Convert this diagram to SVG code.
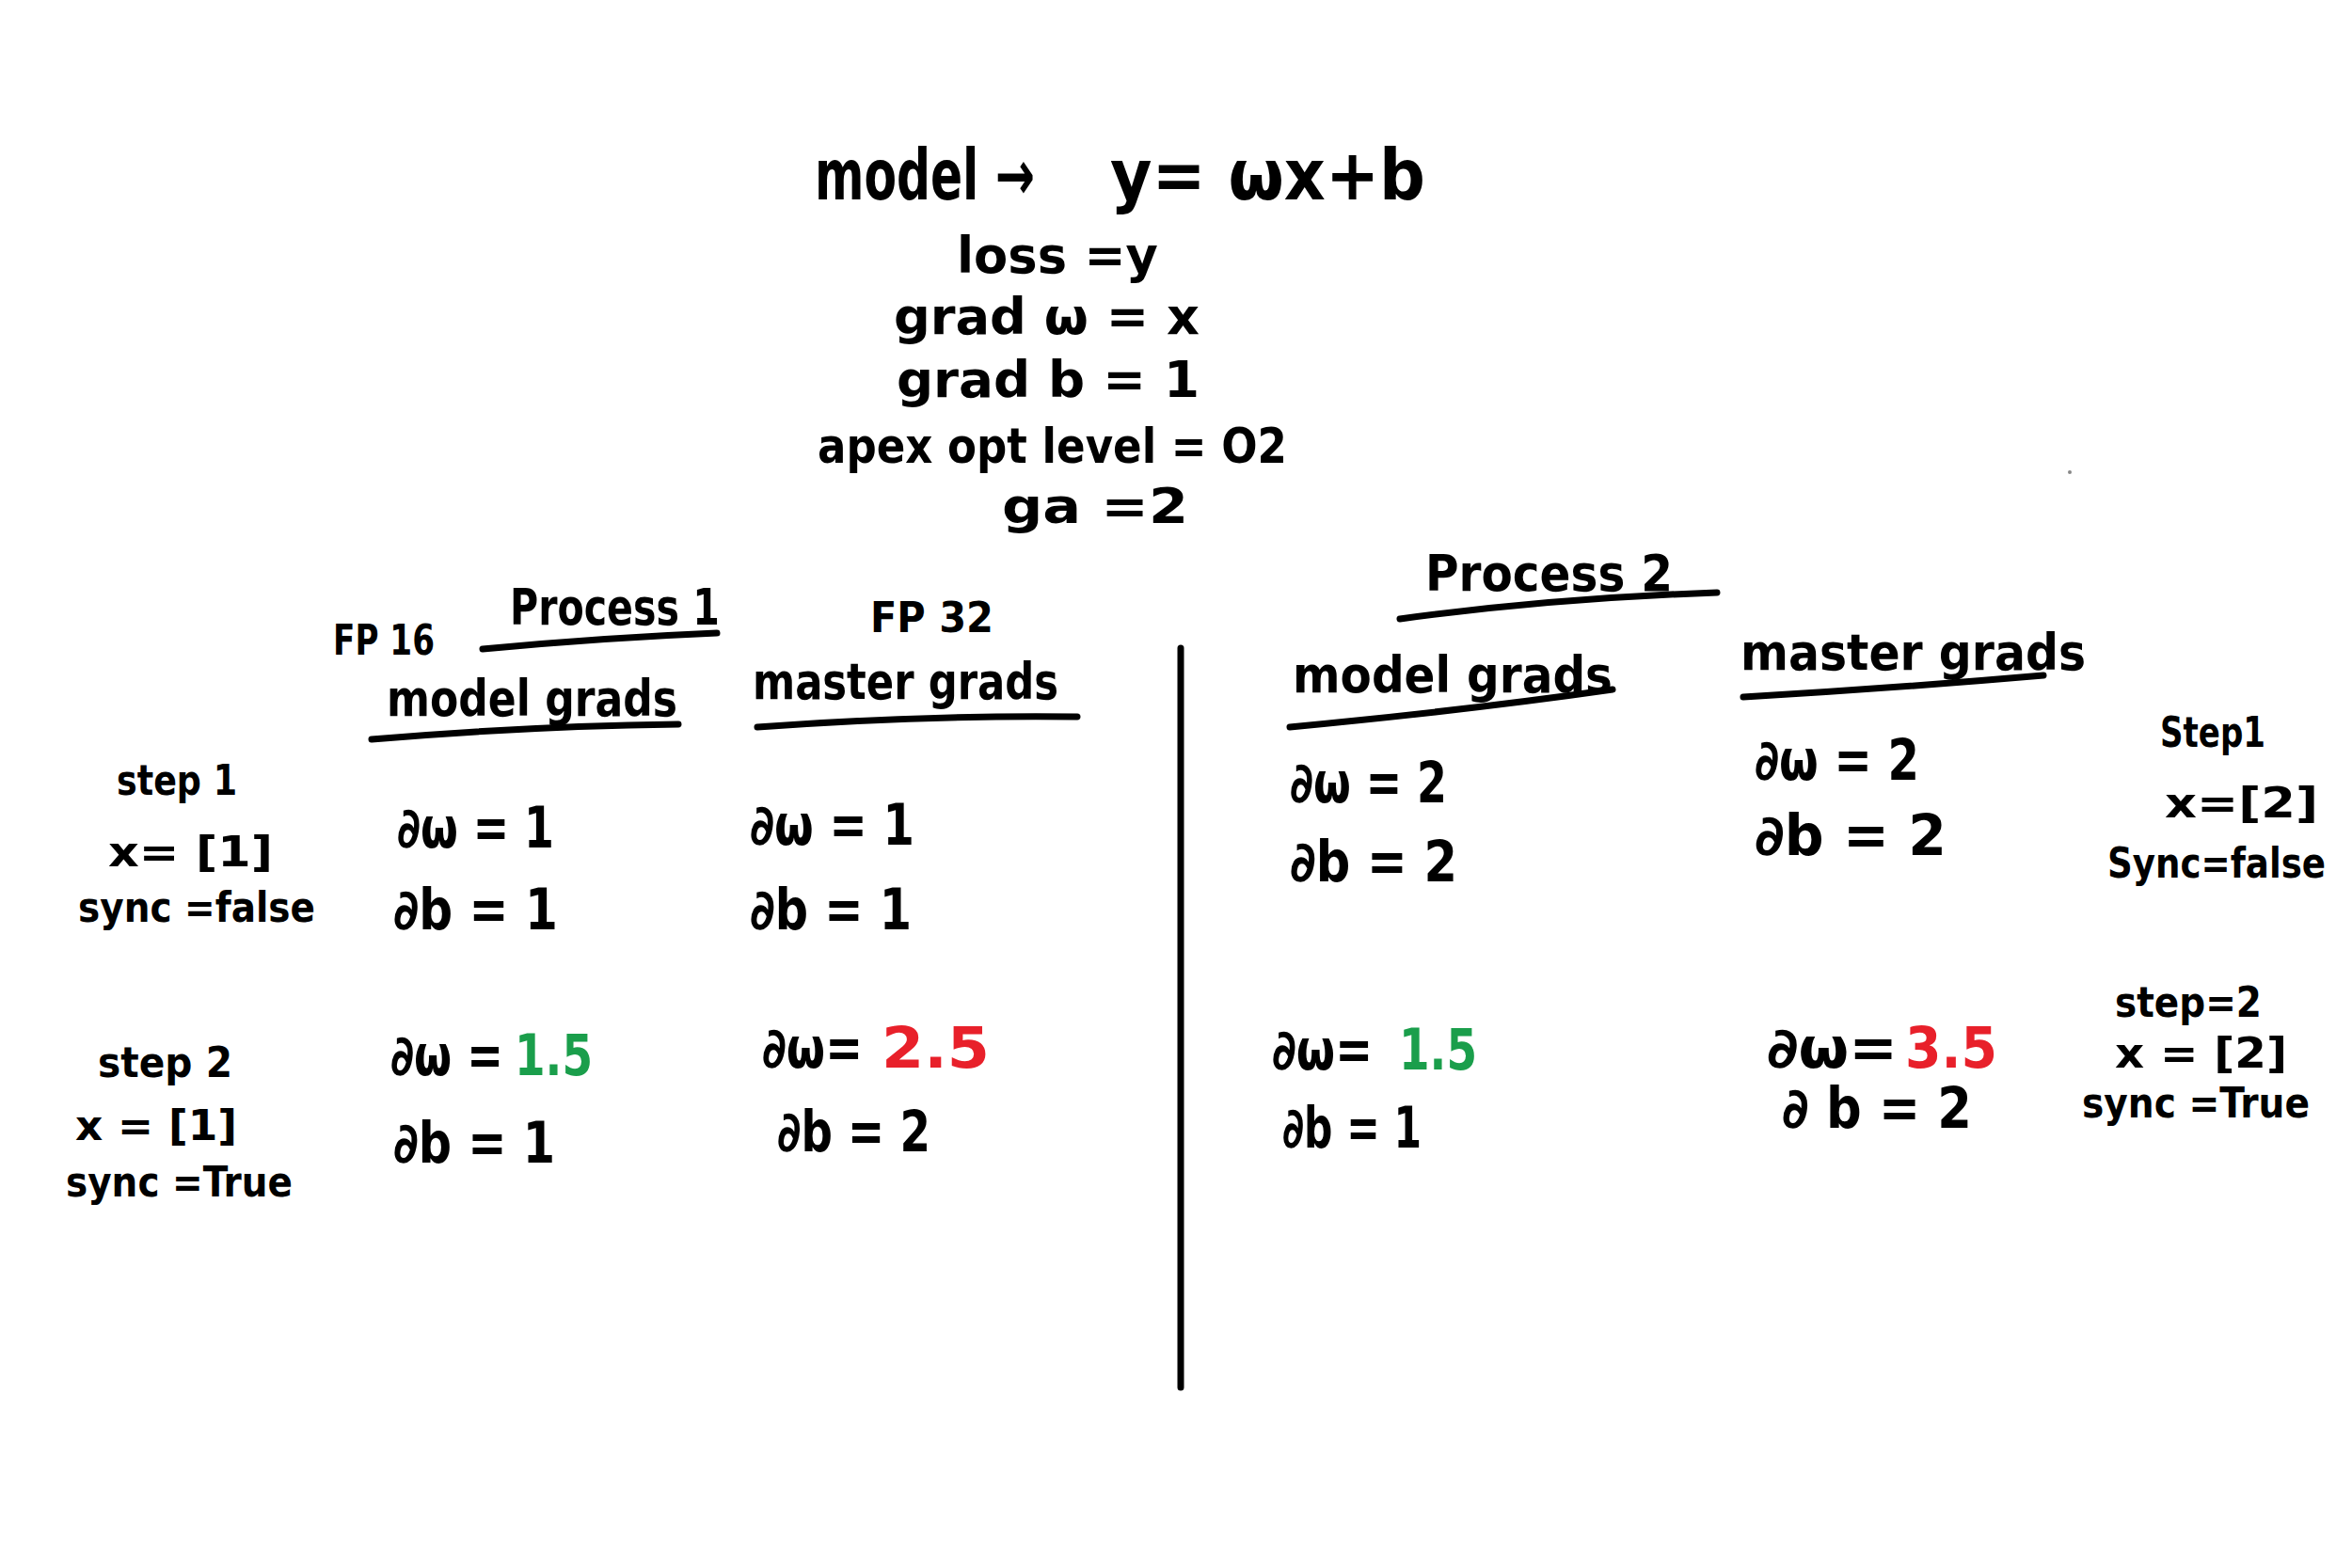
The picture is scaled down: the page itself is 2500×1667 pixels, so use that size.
<svg xmlns="http://www.w3.org/2000/svg" width="2500" height="1667" viewBox="0 0 2500 1667">
<style>
text{font-family:"DejaVu Sans Condensed","Liberation Sans Narrow","Liberation Sans",sans-serif;font-weight:bold;fill:#000}
.t{font-size:74px}
.m{font-size:54px}
.s{font-size:52px}
.h{font-size:54px}
.v{font-size:60px}
.l{font-size:44px}
.g{fill:#1a9e4b}
.r{fill:#e8202a}
.ln{stroke:#000;stroke-width:7;fill:none;stroke-linecap:round}
</style>
<rect width="2500" height="1667" fill="#fff"/>
<g id="model-def">
<text class="t" x="866" y="212" textLength="234" lengthAdjust="spacingAndGlyphs">model →</text>
<text class="t" x="1180" y="212" textLength="335" lengthAdjust="spacingAndGlyphs">y= ωx+b</text>
<text class="m" x="1017" y="290" textLength="214" lengthAdjust="spacingAndGlyphs">loss =y</text>
<text class="m" x="950" y="355" textLength="325" lengthAdjust="spacingAndGlyphs">grad ω = x</text>
<text class="m" x="953" y="422" textLength="322" lengthAdjust="spacingAndGlyphs">grad b = 1</text>
<text class="s" x="869" y="492" textLength="499" lengthAdjust="spacingAndGlyphs">apex opt level = O2</text>
<text class="s" x="1065" y="556" textLength="198" lengthAdjust="spacingAndGlyphs">ga =2</text>
</g>
<g id="process1-header">
<text class="m" x="542" y="664" textLength="223" lengthAdjust="spacingAndGlyphs">Process 1</text>
<text class="l" x="354" y="696" textLength="108" lengthAdjust="spacingAndGlyphs">FP 16</text>
<text class="h" x="411" y="761" textLength="309" lengthAdjust="spacingAndGlyphs">model grads</text>
<text class="l" x="925" y="672" textLength="131" lengthAdjust="spacingAndGlyphs">FP 32</text>
<text class="h" x="800" y="743" textLength="325" lengthAdjust="spacingAndGlyphs">master grads</text>
</g>
<g id="p1-steps">
<text class="l" x="124" y="845" textLength="128" lengthAdjust="spacingAndGlyphs">step 1</text>
<text class="l" x="115" y="921" textLength="175" lengthAdjust="spacingAndGlyphs">x= [1]</text>
<text class="l" x="83" y="980" textLength="252" lengthAdjust="spacingAndGlyphs">sync =false</text>
<text class="l" x="104" y="1145" textLength="143" lengthAdjust="spacingAndGlyphs">step 2</text>
<text class="l" x="80" y="1212" textLength="172" lengthAdjust="spacingAndGlyphs">x = [1]</text>
<text class="l" x="70" y="1272" textLength="241" lengthAdjust="spacingAndGlyphs">sync =True</text>
</g>
<g id="p1-model-grads">
<text class="v" x="422" y="901" textLength="167" lengthAdjust="spacingAndGlyphs">∂ω = 1</text>
<text class="v" x="418" y="988" textLength="175" lengthAdjust="spacingAndGlyphs">∂b = 1</text>
<text class="v" x="415" y="1143" textLength="120" lengthAdjust="spacingAndGlyphs">∂ω =</text>
<text class="v g" x="547" y="1143" textLength="83" lengthAdjust="spacingAndGlyphs">1.5</text>
<text class="v" x="418" y="1236" textLength="172" lengthAdjust="spacingAndGlyphs">∂b = 1</text>
</g>
<g id="p1-master-grads">
<text class="v" x="797" y="898" textLength="175" lengthAdjust="spacingAndGlyphs">∂ω = 1</text>
<text class="v" x="797" y="988" textLength="172" lengthAdjust="spacingAndGlyphs">∂b = 1</text>
<text class="v" x="810" y="1135" textLength="107" lengthAdjust="spacingAndGlyphs">∂ω=</text>
<text class="v r" x="937" y="1135" textLength="115" lengthAdjust="spacingAndGlyphs">2.5</text>
<text class="v" x="826" y="1224" textLength="163" lengthAdjust="spacingAndGlyphs">∂b = 2</text>
</g>
<g id="process2-header">
<text class="m" x="1515" y="628" textLength="263" lengthAdjust="spacingAndGlyphs">Process 2</text>
<text class="h" x="1374" y="736" textLength="340" lengthAdjust="spacingAndGlyphs">model grads</text>
<text class="h" x="1850" y="712" textLength="367" lengthAdjust="spacingAndGlyphs">master grads</text>
</g>
<g id="p2-model-grads">
<text class="v" x="1371" y="853" textLength="167" lengthAdjust="spacingAndGlyphs">∂ω = 2</text>
<text class="v" x="1371" y="937" textLength="178" lengthAdjust="spacingAndGlyphs">∂b = 2</text>
<text class="v" x="1352" y="1137" textLength="107" lengthAdjust="spacingAndGlyphs">∂ω=</text>
<text class="v g" x="1487" y="1137" textLength="83" lengthAdjust="spacingAndGlyphs">1.5</text>
<text class="v" x="1363" y="1220" textLength="148" lengthAdjust="spacingAndGlyphs">∂b = 1</text>
</g>
<g id="p2-master-grads">
<text class="v" x="1865" y="829" textLength="175" lengthAdjust="spacingAndGlyphs">∂ω = 2</text>
<text class="v" x="1865" y="909" textLength="204" lengthAdjust="spacingAndGlyphs">∂b = 2</text>
<text class="v" x="1878" y="1135" textLength="139" lengthAdjust="spacingAndGlyphs">∂ω=</text>
<text class="v r" x="2025" y="1135" textLength="98" lengthAdjust="spacingAndGlyphs">3.5</text>
<text class="v" x="1894" y="1199" textLength="202" lengthAdjust="spacingAndGlyphs">∂ b = 2</text>
</g>
<g id="p2-steps">
<text class="l" x="2296" y="794" textLength="112" lengthAdjust="spacingAndGlyphs">Step1</text>
<text class="l" x="2301" y="869" textLength="163" lengthAdjust="spacingAndGlyphs">x=[2]</text>
<text class="l" x="2240" y="933" textLength="232" lengthAdjust="spacingAndGlyphs">Sync=false</text>
<text class="l" x="2248" y="1081" textLength="156" lengthAdjust="spacingAndGlyphs">step=2</text>
<text class="l" x="2248" y="1135" textLength="183" lengthAdjust="spacingAndGlyphs">x = [2]</text>
<text class="l" x="2213" y="1188" textLength="242" lengthAdjust="spacingAndGlyphs">sync =True</text>
</g>
<g id="connectors">
<path class="ln" d="M513,690 Q640,678 762,673"/>
<path class="ln" d="M395,786 Q560,772 721,770"/>
<path class="ln" d="M805,773 Q980,760 1145,762"/>
<path class="ln" d="M1255,689 L1255,1475"/>
<path class="ln" d="M1488,658 Q1650,636 1825,630"/>
<path class="ln" d="M1371,773 Q1560,755 1714,733"/>
<path class="ln" d="M1853,741 Q2010,732 2172,718"/>
</g>
<circle cx="2200" cy="502" r="2" fill="#888"/>
</svg>
